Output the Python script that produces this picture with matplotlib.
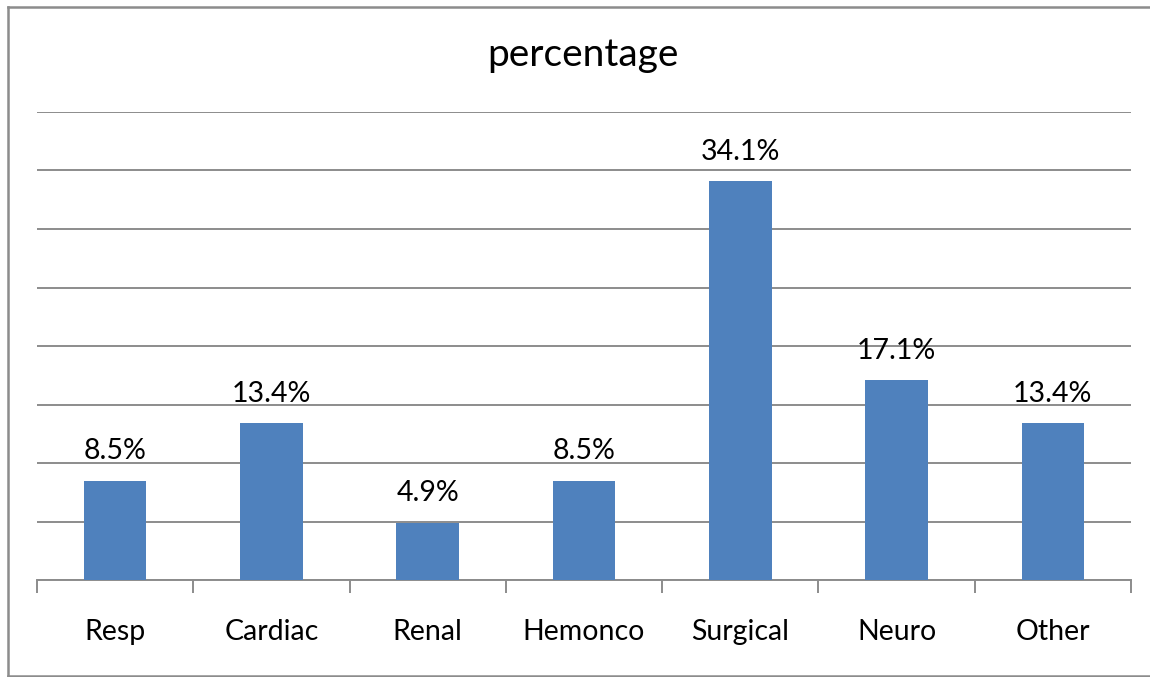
import matplotlib
matplotlib.use("Agg")
import matplotlib.pyplot as plt
from matplotlib.lines import Line2D
import numpy as np

categories = ["Resp", "Cardiac", "Renal", "Hemonco", "Surgical", "Neuro", "Other"]
percentages = [8.5, 13.4, 4.9, 8.5, 34.1, 17.1, 13.4]

W, H = 1150, 677
fig = plt.figure(figsize=(W / 100, H / 100), dpi=100)
plt.rcParams["font.family"] = ["Lato", "DejaVu Sans"]

# outer chart frame: left, top and bottom edges (right edge is cut off)
frame_x0, frame_top, frame_bot = 8 / W, 1 - 7 / H, 1 - 676 / H
for xs, ys in [([frame_x0, frame_x0], [frame_bot, frame_top]),
               ([frame_x0, 1.0], [frame_top, frame_top]),
               ([frame_x0, 1.0], [frame_bot, frame_bot])]:
    fig.add_artist(Line2D(xs, ys, transform=fig.transFigure,
                          color="#8c8c8c", linewidth=1.8))

ax = fig.add_axes([37 / W, 1 - 580 / H, (1131 - 37) / W, (580 - 112) / H])
x = np.arange(len(categories))
ax.bar(x, percentages, width=0.4, color="#4f81bd", zorder=3)

for xi, v in zip(x, percentages):
    ax.text(xi, v + 2.5, f"{v}%", ha="center", va="center", fontsize=20.5)

ax.set_xlim(-0.5, len(categories) - 0.5)
ax.set_ylim(0, 40)
ax.set_yticks(np.arange(0, 41, 5))
ax.yaxis.grid(True, color="#8c8c8c", linewidth=1.4)
ax.tick_params(axis="y", left=False, labelleft=False)
for s in ["top", "right", "left"]:
    ax.spines[s].set_visible(False)
ax.spines["bottom"].set_color("#8c8c8c")
ax.spines["bottom"].set_linewidth(1.4)

ax.set_xticks(x)
ax.set_xticklabels(categories, fontsize=20.5)
ax.tick_params(axis="x", length=0, pad=28)
ax.set_xticks(np.arange(-0.5, len(categories), 1), minor=True)
ax.tick_params(axis="x", which="minor", length=9, width=1.4, color="#8c8c8c")

fig.text(583 / W, 1 - 55 / H, "percentage", ha="center", va="center", fontsize=28)

fig.savefig("out.png", dpi=100)
